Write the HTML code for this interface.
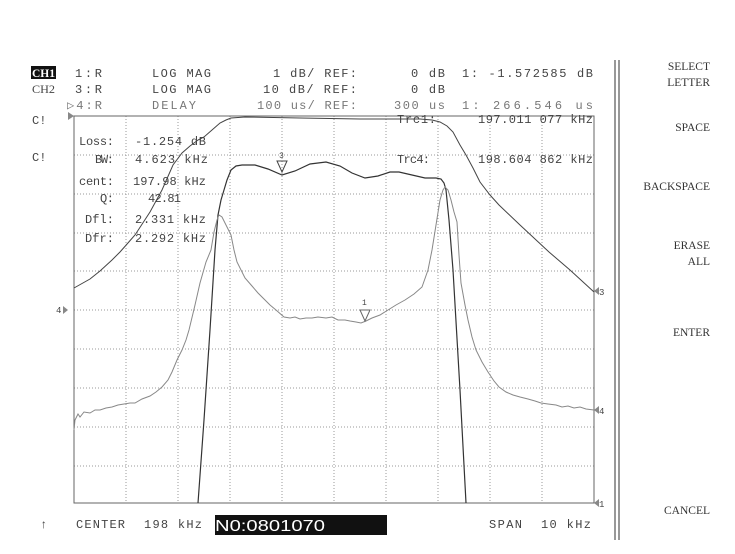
<!DOCTYPE html>
<html><head><meta charset="utf-8"><style>
html,body{margin:0;padding:0;background:#fff;}
svg{display:block;}
text{font-family:"Liberation Mono",monospace;font-size:12px;fill:#444;}
.s{font-family:"Liberation Serif",serif;font-size:11.5px;fill:#333;}
.g{fill:#777;}
</style></head><body>
<svg width="735" height="554" viewBox="0 0 735 554" xmlns="http://www.w3.org/2000/svg">
<rect width="735" height="554" fill="#fff"/>
<g stroke="#999" stroke-width="1" stroke-dasharray="1,2">
<line x1="126" y1="116" x2="126" y2="503"/><line x1="178" y1="116" x2="178" y2="503"/><line x1="230" y1="116" x2="230" y2="503"/><line x1="282" y1="116" x2="282" y2="503"/><line x1="334" y1="116" x2="334" y2="503"/><line x1="386" y1="116" x2="386" y2="503"/><line x1="438" y1="116" x2="438" y2="503"/><line x1="490" y1="116" x2="490" y2="503"/><line x1="542" y1="116" x2="542" y2="503"/>
<line x1="74" y1="155" x2="594" y2="155"/><line x1="74" y1="194" x2="594" y2="194"/><line x1="74" y1="233" x2="594" y2="233"/><line x1="74" y1="271" x2="594" y2="271"/><line x1="74" y1="310" x2="594" y2="310"/><line x1="74" y1="349" x2="594" y2="349"/><line x1="74" y1="388" x2="594" y2="388"/><line x1="74" y1="427" x2="594" y2="427"/><line x1="74" y1="466" x2="594" y2="466"/>
</g>
<rect x="74" y="116" width="520" height="387" fill="none" stroke="#666" stroke-width="1"/>
<polyline fill="none" stroke="#444" stroke-width="1" points="74,288 90,279 100,271 112,260 120,252 135,235 150,212 162,190 173,165 182,153 190,146 198,140 204,137 212,130 220,123 226,120 231,118 245,117 300,118 360,119 420,119 432,120 440,122 447,126 453,132 460,145 466,155 473,168 480,182 490,195 499,205 520,225 549,252 570,270 594,292"/>
<polyline fill="none" stroke="#333" stroke-width="1.2" points="198,503 204,420 210,330 215,250 218,215 221,200 224,190 227,180 231,170 236,166 242,165 255,165 268,169 282,175 295,171 310,164 326,162 340,166 352,173 365,178 378,176 390,172 399,172 412,175 425,178 436,178 441,179 444,183 446,190 449,220 453,270 460,390 466,503"/>
<polyline fill="none" stroke="#888" stroke-width="1" points="74,430 75,420 78,414 80,417 84,412 90,413 95,410 100,410 106,408 112,407 118,405 124,404 130,403 135,403 142,399 150,396 156,392 162,387 168,380 172,372 177,360 182,350 186,340 189,330 195,305 200,283 206,262 211,250 214,232 217,220 219,215 222,217 226,225 231,235 234,250 237,262 245,278 252,286 258,293 264,299 270,305 276,310 284,317 290,318 295,317 300,319 306,318 312,318 318,317 326,318 332,317 338,320 345,320 350,321 356,322 361,323 366,321 372,318 380,315 388,310 396,305 405,300 414,294 422,287 428,270 432,250 436,225 440,200 443,190 445,187 448,190 451,200 454,212 457,222 459,255 461,283 465,305 468,320 472,337 476,350 482,362 488,372 494,381 499,387 506,392 513,395 520,397 528,399 535,401 541,403 548,404 556,405 562,407 568,406 574,408 580,407 586,409 594,410"/>
<path d="M277,161 L287,161 L282,172 Z" fill="none" stroke="#444"/>
<text x="279" y="158" style="font-size:8px">3</text>
<path d="M360,310 L370,310 L365,321 Z" fill="none" stroke="#666"/>
<text x="362" y="305" style="font-size:8px">1</text>
<path d="M68,112 l6,4 l-6,4 Z" fill="#888"/>
<text x="56" y="313" style="font-size:9px">4</text><path d="M63,306 l5,4 l-5,4 Z" fill="#888"/>
<text x="599" y="295" style="font-size:9px">3</text><path d="M599,287 l-5,4 l5,4 Z" fill="#888"/>
<text x="599" y="414" style="font-size:9px">4</text><path d="M599,406 l-5,4 l5,4 Z" fill="#888"/>
<text x="599" y="507" style="font-size:9px">1</text><path d="M599,499 l-5,4 l5,4 Z" fill="#888"/>
<rect x="31" y="66" width="25" height="13" fill="#111"/>
<text x="32" y="77" textLength="23" lengthAdjust="spacingAndGlyphs" style="fill:#fff;font-family:'Liberation Serif',serif;font-weight:bold;font-size:12px">CH1</text>
<text x="32" y="93" textLength="23" lengthAdjust="spacingAndGlyphs" style="font-family:'Liberation Serif',serif;font-size:12px">CH2</text>
<text x="75" y="77" textLength="27" lengthAdjust="spacing">1:R</text>
<text x="152" y="77" textLength="59" lengthAdjust="spacing">LOG MAG</text>
<text x="273" y="77" textLength="84" lengthAdjust="spacing">1 dB/ REF:</text>
<text x="411" y="77" textLength="34" lengthAdjust="spacing">0 dB</text>
<text x="462" y="77" textLength="131" lengthAdjust="spacing">1: -1.572585 dB</text>
<text x="75" y="93" textLength="27" lengthAdjust="spacing">3:R</text>
<text x="152" y="93" textLength="59" lengthAdjust="spacing">LOG MAG</text>
<text x="263" y="93" textLength="94" lengthAdjust="spacing">10 dB/ REF:</text>
<text x="411" y="93" textLength="34" lengthAdjust="spacing">0 dB</text>
<text x="67" y="109" textLength="35" lengthAdjust="spacing" class="g">▷4:R</text>
<text x="152" y="109" textLength="44" lengthAdjust="spacing" class="g">DELAY</text>
<text x="257" y="109" textLength="100" lengthAdjust="spacing" class="g">100 us/ REF:</text>
<text x="394" y="109" textLength="51" lengthAdjust="spacing" class="g">300 us</text>
<text x="462" y="109" textLength="131" lengthAdjust="spacing" class="g">1:   266.546 us</text>
<text x="32" y="124">C!</text><text x="32" y="161">C!</text>
<text x="79" y="145" textLength="35" lengthAdjust="spacing">Loss:</text><text x="135" y="145" textLength="71" lengthAdjust="spacing">-1.254 dB</text>
<text x="95" y="163" textLength="19" lengthAdjust="spacing">BW:</text><text x="135" y="163" textLength="73" lengthAdjust="spacing">4.623 kHz</text>
<text x="79" y="185" textLength="35" lengthAdjust="spacing">cent:</text><text x="133" y="185" textLength="73" lengthAdjust="spacing">197.98 kHz</text>
<text x="100" y="202" textLength="14" lengthAdjust="spacing">Q:</text><text x="148" y="202" textLength="33" lengthAdjust="spacing">42.81</text>
<text x="85" y="223" textLength="29" lengthAdjust="spacing">Dfl:</text><text x="135" y="223" textLength="71" lengthAdjust="spacing">2.331 kHz</text>
<text x="85" y="242" textLength="29" lengthAdjust="spacing">Dfr:</text><text x="135" y="242" textLength="71" lengthAdjust="spacing">2.292 kHz</text>
<text x="397" y="123" textLength="39" lengthAdjust="spacing">Trc1:</text><text x="478" y="123" textLength="115" lengthAdjust="spacing">197.011 077 kHz</text>
<text x="397" y="163" textLength="33" lengthAdjust="spacing">Trc4:</text><text x="478" y="163" textLength="115" lengthAdjust="spacing">198.604 862 kHz</text>
<text x="40" y="528">↑</text>
<text x="76" y="528" textLength="49" lengthAdjust="spacing">CENTER</text><text x="144" y="528" textLength="58" lengthAdjust="spacing">198 kHz</text>
<rect x="215" y="515" width="172" height="20" fill="#111"/>
<text x="215" y="531" textLength="110" lengthAdjust="spacingAndGlyphs" style="fill:#fff;font-family:'Liberation Sans',sans-serif;font-size:16px">N0:0801070</text>
<text x="489" y="528" textLength="33" lengthAdjust="spacing">SPAN</text><text x="541" y="528" textLength="50" lengthAdjust="spacing">10 kHz</text>
<line x1="615" y1="60" x2="615" y2="540" stroke="#777" stroke-width="1.5"/>
<line x1="619" y1="60" x2="619" y2="540" stroke="#777" stroke-width="1.5"/>
<g text-anchor="end">
<text x="710" y="70" class="s">SELECT</text><text x="710" y="86" class="s">LETTER</text>
<text x="710" y="131" class="s">SPACE</text>
<text x="710" y="190" class="s">BACKSPACE</text>
<text x="710" y="249" class="s">ERASE</text><text x="710" y="265" class="s">ALL</text>
<text x="710" y="336" class="s">ENTER</text>
<text x="710" y="514" class="s">CANCEL</text>
</g>
</svg>
</body></html>
